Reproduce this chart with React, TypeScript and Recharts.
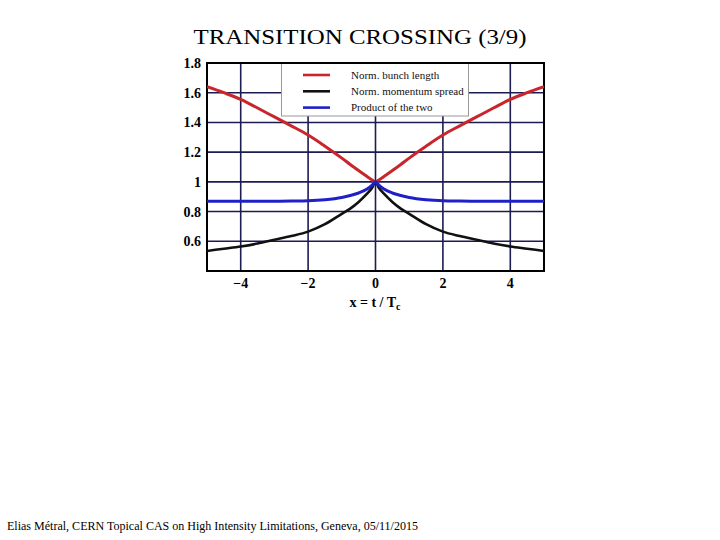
import React from "react";
import { LineChart, Line, XAxis, YAxis, CartesianGrid, ReferenceArea } from "recharts";

const xValues = [-5, -4.5, -4, -3.5, -3, -2.5, -2, -1.5, -1, -0.75, -0.5, -0.25, -0.1, 0, 0.1, 0.25, 0.5, 0.75, 1, 1.5, 2, 2.5, 3, 3.5, 4, 4.5, 5];
const bunchLength = [1.64, 1.6, 1.555, 1.497, 1.437, 1.377, 1.315, 1.24, 1.16, 1.117, 1.076, 1.036, 1.013, 1.0, 1.013, 1.036, 1.076, 1.117, 1.16, 1.24, 1.315, 1.377, 1.437, 1.497, 1.555, 1.6, 1.64];
const momentumSpread = [0.535, 0.55, 0.565, 0.585, 0.61, 0.635, 0.665, 0.715, 0.785, 0.82, 0.865, 0.92, 0.96, 1.0, 0.96, 0.92, 0.865, 0.82, 0.785, 0.715, 0.665, 0.635, 0.61, 0.585, 0.565, 0.55, 0.535];
const product = [0.87, 0.87, 0.87, 0.87, 0.87, 0.871, 0.873, 0.88, 0.895, 0.908, 0.925, 0.952, 0.978, 1.0, 0.978, 0.952, 0.925, 0.908, 0.895, 0.88, 0.873, 0.871, 0.87, 0.87, 0.87, 0.87, 0.87];

const xTicks = [-4, -2, 0, 2, 4];
const yTicks = [0.6, 0.8, 1, 1.2, 1.4, 1.6, 1.8];

const legendItems = [
  { label: "Norm. bunch length", color: "#c8262c" },
  { label: "Norm. momentum spread", color: "#111111" },
  { label: "Product of  the two", color: "#2020c8" },
];

const data = xValues.map((x, i) => ({
  x,
  red: bunchLength[i],
  black: momentumSpread[i],
  blue: product[i],
}));

const serif = "'Liberation Serif', 'Times New Roman', serif";

export default function App() {
  return (
    <div style={{ position: "absolute", left: 0, top: 0, width: 720, height: 540, background: "#fff" }}>
      <div style={{ position: "absolute", left: 0, top: 0 }}>
        <LineChart
          width={720}
          height={540}
          data={data}
          margin={{ top: 63, right: 176, bottom: 239, left: 167 }}
        >
          <CartesianGrid stroke="#1c1c52" strokeWidth={1.6} />
          <XAxis
            dataKey="x"
            type="number"
            domain={[-5, 5]}
            ticks={xTicks}
            allowDataOverflow
            height={30}
            axisLine={false}
            tickLine={false}
            tickSize={6}
            tickMargin={1}
            tickFormatter={(v: number) => String(v).replace("-", "\u2212")}
            tick={{ fill: "#000", fontSize: 14, fontWeight: "bold", fontFamily: serif }}
          />
          <YAxis
            type="number"
            domain={[0.4, 1.8]}
            ticks={yTicks}
            allowDataOverflow
            width={40}
            axisLine={false}
            tickLine={false}
            tickSize={0}
            tickMargin={6}
            tickFormatter={(v: number) => (v === 1 ? "1" : v.toFixed(1))}
            tick={{ fill: "#000", fontSize: 14, fontWeight: "bold", fontFamily: serif }}
          />
          <Line type="monotone" dataKey="red" stroke="#c8262c" strokeWidth={3} dot={false} isAnimationActive={false} />
          <Line type="monotone" dataKey="black" stroke="#111111" strokeWidth={2.6} dot={false} isAnimationActive={false} />
          <Line type="monotone" dataKey="blue" stroke="#2020c8" strokeWidth={3} dot={false} isAnimationActive={false} />
          <ReferenceArea x1={-5} x2={5} y1={0.4} y2={1.8} fill="none" stroke="#000" strokeWidth={2} ifOverflow="visible" />
        </LineChart>
      </div>
      <svg
        width={720}
        height={540}
        style={{ position: "absolute", left: 0, top: 0, pointerEvents: "none" }}
      >
        <text x={360} y={44} textAnchor="middle" fontFamily={serif} fontSize={22} fill="#000" textLength={333} lengthAdjust="spacingAndGlyphs">
          TRANSITION CROSSING (3/9)
        </text>
        <text x={375} y={307} textAnchor="middle" fontFamily={serif} fontSize={14} fontWeight="bold" fill="#000">
          x = t / T<tspan fontSize={10} dy={3}>c</tspan>
        </text>
        <rect x={281.5} y={63} width={187} height={53} fill="#fff" stroke="#999" strokeWidth={1} />
        <line x1={207} x2={544} y1={63} y2={63} stroke="#000" strokeWidth={2} />
        {legendItems.map((item, i) => (
          <g key={item.label}>
            <line x1={303} x2={330} y1={75 + i * 16.3} y2={75 + i * 16.3} stroke={item.color} strokeWidth={2.6} />
            <text x={351} y={75 + i * 16.3} dy="0.35em" fontFamily={serif} fontSize={11} fill="#111">
              {item.label}
            </text>
          </g>
        ))}
        <text x={7} y={530} fontFamily={serif} fontSize={13} fill="#000" textLength={411} lengthAdjust="spacingAndGlyphs">
          Elias Métral, CERN Topical CAS on High Intensity Limitations, Geneva, 05/11/2015
        </text>
      </svg>
    </div>
  );
}
